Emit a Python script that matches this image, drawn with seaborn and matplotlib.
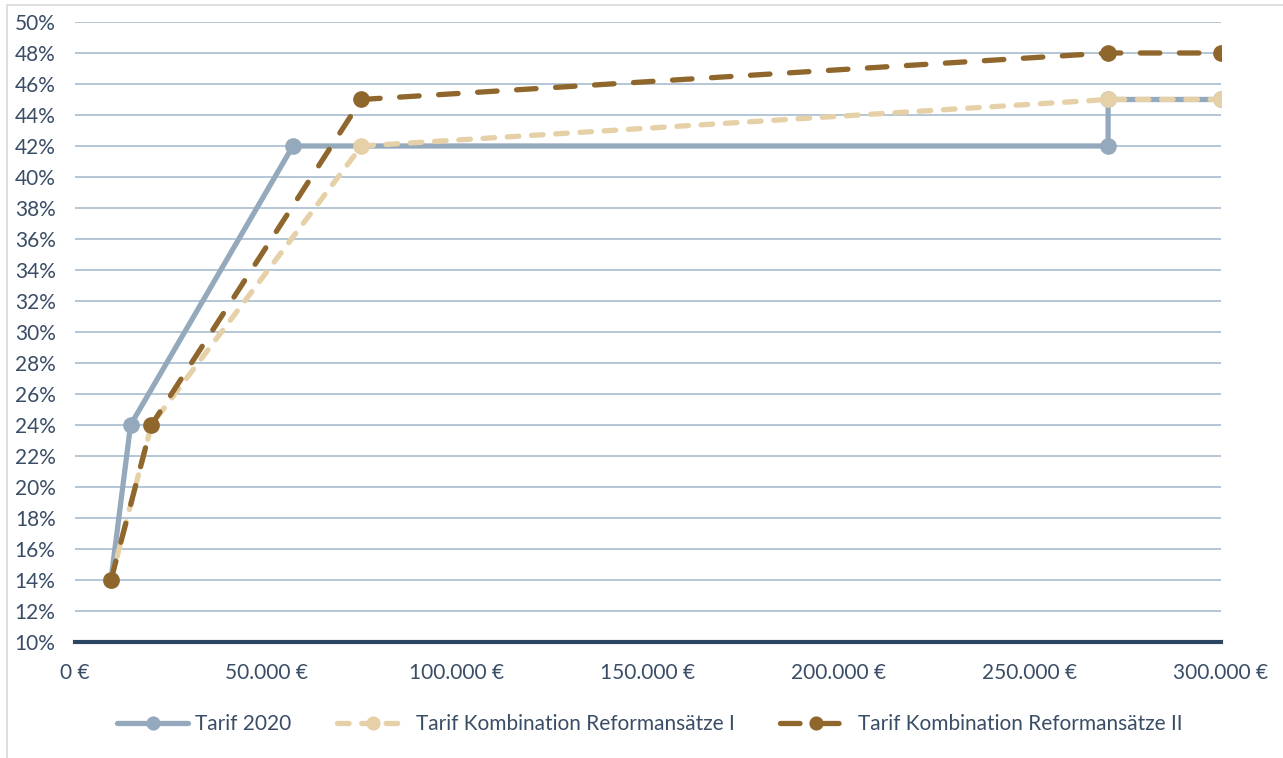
import matplotlib
matplotlib.use("Agg")
import matplotlib.pyplot as plt
import seaborn as sns
import pandas as pd
from matplotlib.ticker import FuncFormatter, MultipleLocator
from matplotlib.lines import Line2D

# Daten (Einkommen in €, Grenzsteuersatz in %)
tarif_2020_x = [9408, 14532, 57051, 270500, 270500, 300000]
tarif_2020_y = [14, 24, 42, 42, 45, 45]

reform_1_x = [9408, 20000, 75000, 270500, 300000]
reform_1_y = [14, 24, 42, 45, 45]

reform_2_x = [9408, 20000, 75000, 270500, 300000]
reform_2_y = [14, 24, 45, 48, 48]

namen = ["Tarif 2020", "Tarif Kombination Reformansätze I", "Tarif Kombination Reformansätze II"]
farben = ["#94a9bc", "#e6d0a8", "#8f662b"]

df = pd.concat([
    pd.DataFrame({"x": tarif_2020_x, "y": tarif_2020_y, "tarif": namen[0]}),
    pd.DataFrame({"x": reform_1_x, "y": reform_1_y, "tarif": namen[1]}),
    pd.DataFrame({"x": reform_2_x, "y": reform_2_y, "tarif": namen[2]}),
])

sns.set_style("white")
plt.rcParams["font.family"] = ["Lato", "DejaVu Sans"]
textfarbe = "#3a4d66"

fig = plt.figure(figsize=(12.83, 7.58), dpi=100)
ax = fig.add_axes([0.0585, 0.153, 0.893, 0.818])

striche = [None, (2.2, 2.4), (3.7, 3.7)]
for name, farbe, dash in zip(namen, farben, striche):
    teil = df[df["tarif"] == name]
    sns.lineplot(data=teil, x="x", y="y", ax=ax, color=farbe, lw=3.8,
                 marker="o", markersize=12, markeredgewidth=0,
                 sort=False, estimator=None, label=name,
                 dashes=False, solid_capstyle="round", dash_capstyle="round")
    if dash is not None:
        ax.lines[-1].set_dashes(dash)

ax.set_xlim(0, 300000)
ax.set_ylim(10, 50)
ax.xaxis.set_major_locator(MultipleLocator(50000))
ax.yaxis.set_major_locator(MultipleLocator(2))
ax.xaxis.set_major_formatter(FuncFormatter(lambda v, p: f"{int(v):,} €".replace(",", ".")))
ax.yaxis.set_major_formatter(FuncFormatter(lambda v, p: f"{int(round(v))}%"))
ax.grid(axis="y", color="#b4c6d6", lw=1.4)
ax.set_axisbelow(True)
for s in ["top", "right", "left"]:
    ax.spines[s].set_visible(False)
ax.spines["bottom"].set_color("#2c4563")
ax.spines["bottom"].set_linewidth(3)
ax.set_xlabel("")
ax.set_ylabel("")
ax.tick_params(axis="both", length=0, labelsize=15, colors=textfarbe)
ax.tick_params(axis="x", pad=15)
ax.tick_params(axis="y", pad=14)

leg = ax.legend(loc="center", bbox_to_anchor=(650 / 1283, 1 - 724 / 758),
                bbox_transform=fig.transFigure, ncol=3, frameon=False,
                fontsize=15, handlelength=3.4, handletextpad=0.35,
                columnspacing=2.2, labelcolor=textfarbe, markerscale=0.85)

# Rahmen
fig.add_artist(Line2D([0.0055, 0.0055], [0, 0.9935], transform=fig.transFigure, color="#d9d9d9", lw=1.2))
fig.add_artist(Line2D([0.0055, 1], [0.9935, 0.9935], transform=fig.transFigure, color="#d9d9d9", lw=1.2))

fig.savefig("out.png", dpi=100)
